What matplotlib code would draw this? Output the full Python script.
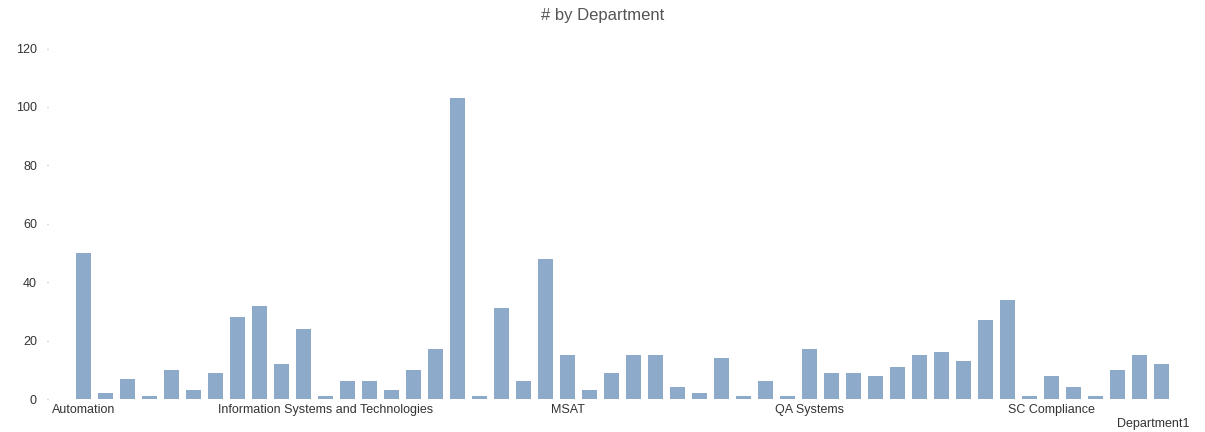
import matplotlib.pyplot as plt
import numpy as np

# datos
valores = [50, 2, 7, 1, 10, 3, 9, 28, 32, 12,
           24, 1, 6, 6, 3, 10, 17, 103, 1, 31,
           6, 48, 15, 3, 9, 15, 15, 4, 2, 14,
           1, 6, 1, 17, 9, 9, 8, 11, 15, 16,
           13, 27, 34, 1, 8, 4, 1, 10, 15, 12]

# solo algunas categorias tienen etiqueta visible
etiquetas = {0: "Automation",
             11: "Information Systems and Technologies",
             22: "MSAT",
             33: "QA Systems",
             44: "SC Compliance"}

y_ticks = [0, 20, 40, 60, 80, 100, 120]

color_barra = "#8EAACA"
color_texto = "#333333"

plt.rcParams["font.family"] = ["Liberation Sans", "DejaVu Sans"]

fig = plt.figure(figsize=(12.05, 4.32), dpi=100)
ax = fig.add_axes([48 / 1205, 33 / 432, (1190 - 48) / 1205, 350.5 / 432])

x = np.arange(len(valores))
ax.bar(x, valores, width=0.68, color=color_barra)

ax.set_xlim(-1.614, 50.30)
ax.set_ylim(0, 120)

ax.set_yticks(y_ticks)
ax.set_yticklabels([str(v) for v in y_ticks], fontsize=9, color=color_texto)
ax.tick_params(axis="y", length=1, width=1, color="#BBBBBB", pad=7)

pos = list(etiquetas.keys())
ax.set_xticks(pos)
ax.set_xticklabels([etiquetas[p] for p in pos], fontsize=9, color=color_texto)
ax.tick_params(axis="x", length=0, pad=3.5)

for s in ax.spines.values():
    s.set_visible(False)

fig.text(603 / 1205, 1 - 15.5 / 432, "# by Department", ha="center", va="center",
         fontsize=12, color="#555555")
fig.text(1190 / 1205, 1 - 424 / 432, "Department1", ha="right", va="center",
         fontsize=9, color=color_texto)

plt.savefig("out.png", dpi=100)
